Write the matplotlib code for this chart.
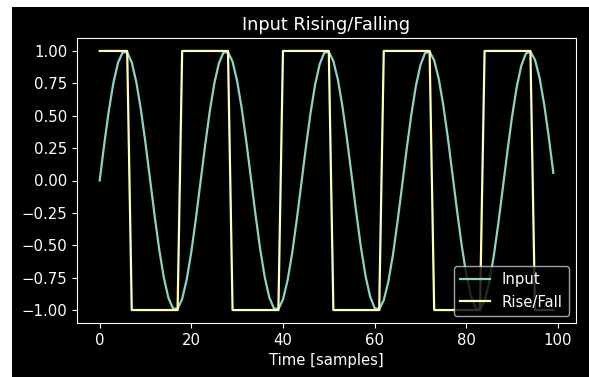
import matplotlib
matplotlib.use("Agg")
import matplotlib.pyplot as plt
from matplotlib.patches import Rectangle

# sample index and values
samples = list(range(100))
input_sig = [
    0.000, 0.281, 0.540, 0.755, 0.909, 0.989, 0.990, 0.911, 0.759, 0.545,
    0.288, 0.007, -0.275, -0.534, -0.750, -0.906, -0.988, -0.991, -0.914, -0.763,
    -0.551, -0.294, -0.013, 0.268, 0.528, 0.746, 0.903, 0.987, 0.992, 0.917,
    0.767, 0.556, 0.300, 0.020, -0.262, -0.523, -0.742, -0.900, -0.986, -0.993,
    -0.919, -0.772, -0.562, -0.306, -0.026, 0.256, 0.517, 0.737, 0.897, 0.985,
    0.994, 0.922, 0.776, 0.567, 0.313, 0.033, -0.249, -0.512, -0.733, -0.894,
    -0.984, -0.994, -0.924, -0.780, -0.573, -0.319, -0.040, 0.243, 0.506, 0.728,
    0.891, 0.983, 0.995, 0.927, 0.784, 0.578, 0.325, 0.046, -0.237, -0.500,
    -0.724, -0.888, -0.982, -0.996, -0.929, -0.788, -0.583, -0.331, -0.053, 0.230,
    0.495, 0.719, 0.885, 0.980, 0.996, 0.932, 0.792, 0.589, 0.338, 0.059,
]
rise_fall = [
    1, 1, 1, 1, 1, 1, 1, -1, -1, -1,
    -1, -1, -1, -1, -1, -1, -1, -1, 1, 1,
    1, 1, 1, 1, 1, 1, 1, 1, 1, -1,
    -1, -1, -1, -1, -1, -1, -1, -1, -1, -1,
    1, 1, 1, 1, 1, 1, 1, 1, 1, 1,
    1, -1, -1, -1, -1, -1, -1, -1, -1, -1,
    -1, -1, 1, 1, 1, 1, 1, 1, 1, 1,
    1, 1, 1, -1, -1, -1, -1, -1, -1, -1,
    -1, -1, -1, -1, 1, 1, 1, 1, 1, 1,
    1, 1, 1, 1, 1, -1, -1, -1, -1, -1,
]

plt.style.use('dark_background')
plt.rcParams['font.size'] = 10.7
plt.rcParams['axes.titlesize'] = 12.8

fig = plt.figure(figsize=(5.89, 3.77), dpi=100)
fig.patch.set_facecolor('white')
# black canvas area (screenshot has a thin white strip left and top)
fig.add_artist(Rectangle((12/589, 0), 1 - 12/589, 1 - 7/377,
                         transform=fig.transFigure, facecolor='black',
                         edgecolor='none', zorder=-10))

ax = fig.add_axes([77/589, 1 - 323/377, (576 - 77)/589, (323 - 38)/377])
ax.plot(samples, input_sig, label='Input', lw=1.6)
ax.plot(samples, rise_fall, label='Rise/Fall', lw=1.6)
ax.set_title("Input Rising/Falling")
ax.set_xlabel("Time [samples]")
ax.legend(loc='lower right')

fig.savefig('out.png', dpi=100, facecolor=fig.get_facecolor())
